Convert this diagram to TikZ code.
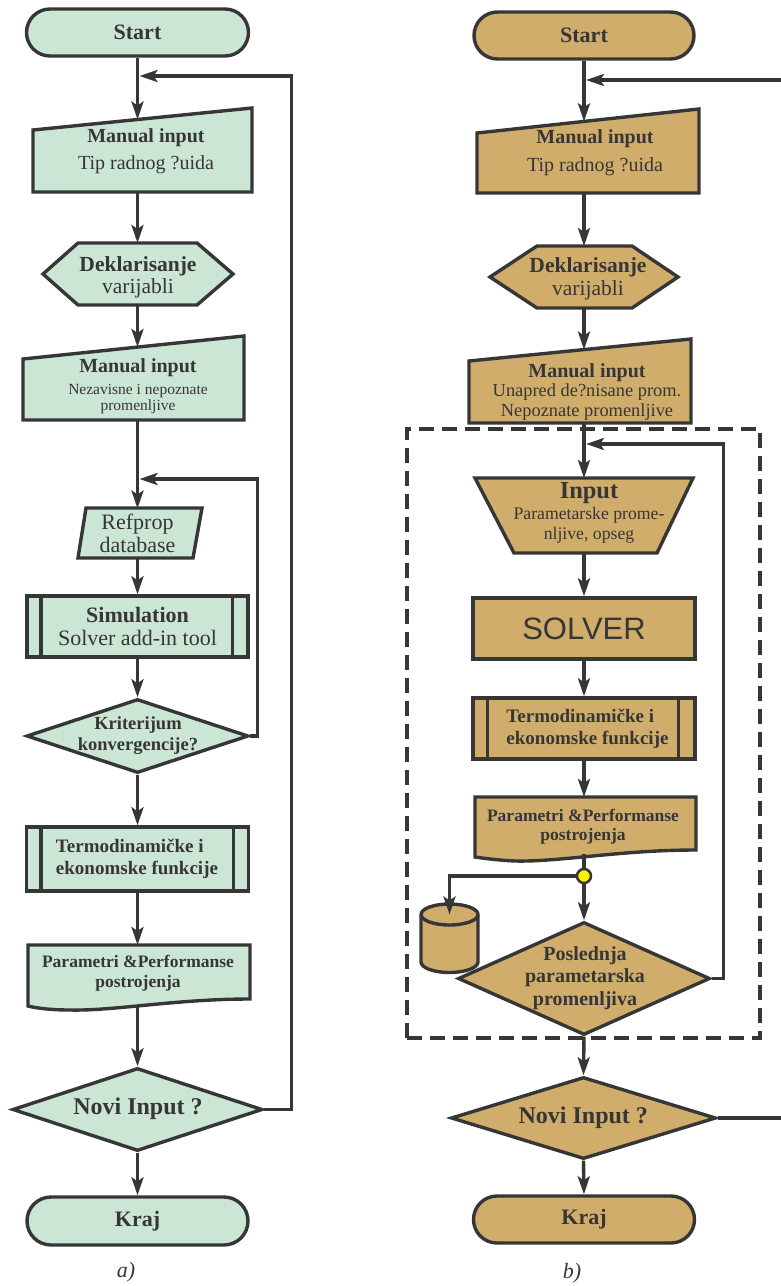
\documentclass[tikz,border=0pt]{standalone}
\usepackage{fontspec}
\setmainfont{Liberation Serif}
\newfontfamily\solverfont{Liberation Sans}
\usetikzlibrary{arrows.meta,shapes.misc,shapes.geometric,calc}
\definecolor{dk}{HTML}{363636}
\definecolor{gfill}{HTML}{CCE6D5}
\definecolor{tfill}{HTML}{D1AD6B}
\definecolor{ydot}{HTML}{FFF200}
\newcommand\myfs[2]{\fontsize{#1}{#2}\selectfont}
\begin{document}
\begin{tikzpicture}[x=1pt,y=-1pt,
  shp/.style={draw=dk, line width=3.4pt, line join=miter},
  gshp/.style={shp, fill=gfill},
  tshp/.style={shp, fill=tfill},
  conn/.style={rectangle, inner sep=0pt, outer sep=0pt, draw=none},
  arr/.style={draw=dk, line width=3.4pt, -{Stealth[length=18pt,width=12pt,inset=4pt]}},
  ln/.style={draw=dk, line width=3.4pt},
  txt/.style={inner sep=0pt, align=center, text=dk},
  term/.style={rounded rectangle, inner sep=0pt, text=dk},
  boxn/.style={rectangle, inner sep=0pt, text=dk, align=center},
  dia/.style={diamond, inner sep=0pt}
]
\useasboundingbox (0,0) rectangle (781,1286);
\clip (0,0) rectangle (781,1286);

% ================= LEFT (a) =================
\node[term, gshp, minimum width=222pt, minimum height=47pt, font=\myfs{22}{24}\bfseries] (s1) at (137.5,32.5) {Start};

\path[gshp] (33,192) -- (33,130) -- (252,108) -- (252,192) -- cycle;
\node[conn, minimum width=219pt, minimum height=72.5pt] (mi1) at (137.5,155.75) {};
\node[txt, font=\myfs{20}{27}] (mi1t) at (146,151) {\textbf{Manual input}\\Tip radnog ?uida};

\path[gshp] (43,274) -- (78,243) -- (197,243) -- (233,274) -- (197,305) -- (78,305) -- cycle;
\node[conn, minimum width=190pt, minimum height=62pt] (hx1) at (137.5,274) {};
\node[txt, font=\myfs{21.5}{21.5}] (hx1t) at (138,277.3) {\textbf{Deklarisanje}\\varijabli};

\path[gshp] (23,420) -- (23,359) -- (244,336) -- (244,420) -- cycle;
\node[conn, minimum width=221pt, minimum height=73pt] (mi2) at (137.5,383.5) {};
\node[txt, font=\myfs{15.5}{16}] (mi2t) at (138,386) {{\myfs{20}{16}\bfseries Manual input}\\[6pt]Nezavisne i nepoznate\\promenljive};

\path[gshp] (86,508) -- (202,508) -- (193,558) -- (78,558) -- cycle;
\node[conn, txt, minimum width=110pt, minimum height=50pt, font=\myfs{22}{23}] (rp) at (137.5,533.5) {Refprop\\database};

\node[boxn, gshp, minimum width=221pt, minimum height=61pt, font=\myfs{22}{23}] (sim) at (137.5,626.5) {\textbf{Simulation}\\Solver add-in tool};
\draw[shp] ($(sim.north west)+(15.5,0)$) -- ($(sim.south west)+(15.5,0)$);
\draw[shp] ($(sim.north east)+(-17,0)$) -- ($(sim.south east)+(-17,0)$);

\node[dia, gshp, minimum width=222pt, minimum height=74pt] (kr1) at (137.5,736) {};
\node[txt, font=\myfs{18.5}{21}\bfseries] (kr1t) at (138,735.2) {Kriterijum\\konvergencije?};

\node[boxn, gshp, minimum width=222pt, minimum height=64pt] (ter1) at (137.5,859) {};
\draw[shp] ($(ter1.north west)+(16,0)$) -- ($(ter1.south west)+(16,0)$);
\draw[shp] ($(ter1.north east)+(-17,0)$) -- ($(ter1.south east)+(-17,0)$);
\node[txt, align=left, font=\myfs{19}{22}\bfseries] (ter1t) at (137,858.7) {Termodinamičke i\\ekonomske funkcije};

\path[gshp] (28,945) -- (250,945) -- (250,999) .. controls (175,999) and (115,1011) .. (70,1010) .. controls (50,1010) and (36,1008) .. (28,1006) -- cycle;
\node[conn, minimum width=222pt, minimum height=60pt] (doc1) at (137.5,975) {};
\node[txt, font=\myfs{17.5}{20}\bfseries] (doc1t) at (138,973) {Parametri \&Performanse\\postrojenja};

\node[dia, gshp, minimum width=250pt, minimum height=83pt] (nov1) at (137.5,1109.5) {};
\node[txt, font=\myfs{24}{26}\bfseries] (nov1t) at (138,1108.8) {Novi Input ?};

\node[term, gshp, minimum width=221pt, minimum height=48pt, font=\myfs{22}{24}\bfseries] (k1) at (137.5,1221) {Kraj};

\node[txt, font=\myfs{22}{24}\itshape] (la) at (126,1272) {a)};

\coordinate (fb1) at (139.5,76);
\coordinate (fb2) at (139.5,479);
\draw[arr] (s1.south) -- (mi1.north);
\draw[arr] (mi1.south) -- (hx1.north);
\draw[arr] (hx1.south) -- (mi2.north);
\draw[arr] (mi2.south) -- (rp.north);
\draw[arr] (rp.south) -- (sim.north);
\draw[arr] (sim.south) -- (kr1.north);
\draw[arr] (kr1.south) -- (ter1.north);
\draw[arr] (ter1.south) -- (doc1.north);
\draw[arr] (doc1.south) -- (nov1.north);
\draw[arr] (nov1.south) -- (k1.north);
\draw[arr] (kr1.east) -- ++(7,0) |- (fb2);
\draw[arr] (nov1.east) -- ++(27,0) |- (fb1);

% ================= RIGHT (b) =================
\node[draw=dk, line width=3.4pt, dash pattern=on 15pt off 8pt, rectangle, inner sep=0pt, minimum width=353pt, minimum height=609pt] (loop) at (583.5,733.5) {};

\node[term, tshp, minimum width=220pt, minimum height=47pt, font=\myfs{22}{24}\bfseries] (s2) at (584,35.5) {Start};

\path[tshp] (477,193) -- (477,133) -- (699,109) -- (699,193) -- cycle;
\node[conn, minimum width=222pt, minimum height=71.6pt] (mi3) at (584,157.2) {};
\node[txt, font=\myfs{20}{28}] (mi3t) at (595,152.4) {\textbf{Manual input}\\Tip radnog ?uida};

\path[tshp] (490,277) -- (537,246) -- (632,246) -- (678,277) -- (632,308) -- (537,308) -- cycle;
\node[conn, minimum width=188pt, minimum height=62pt] (hx2) at (584,277) {};
\node[txt, font=\myfs{21.5}{23}] (hx2t) at (588,278.5) {\textbf{Deklarisanje}\\varijabli};

\path[tshp] (469,423) -- (469,361) -- (691,339) -- (691,423) -- cycle;
\node[conn, minimum width=222pt, minimum height=73.4pt] (mi4) at (584,386.3) {};
\node[txt, font=\myfs{18.4}{20}] (mi4t) at (587,391.7) {{\myfs{20}{20}\bfseries Manual input}\\[-1pt]Unapred de?nisane prom.\\Nepoznate promenljive};

\path[tshp] (475,478) -- (693,478) -- (657,553) -- (514,553) -- cycle;
\node[conn, minimum width=218pt, minimum height=75pt] (inp) at (584,515.5) {};
\node[txt, font=\myfs{17.7}{20}] (inpt) at (589,513.2) {{\myfs{24.4}{20}\bfseries Input}\\[1pt]Parametarske prome-\\nljive, opseg};

\node[boxn, tshp, minimum width=222pt, minimum height=61pt, font=\solverfont\myfs{31}{33}] (sol) at (584,628.5) {SOLVER};

\node[boxn, tshp, minimum width=222pt, minimum height=61pt] (ter2) at (584,728.5) {};
\draw[shp] ($(ter2.north west)+(16,0)$) -- ($(ter2.south west)+(16,0)$);
\draw[shp] ($(ter2.north east)+(-18,0)$) -- ($(ter2.south east)+(-18,0)$);
\node[txt, align=left, font=\myfs{19}{22}\bfseries] (ter2t) at (587.5,728.7) {Termodinamičke i\\ekonomske funkcije};

\path[tshp] (475,797) -- (696,797) -- (696,850) .. controls (620,850) and (560,862) .. (515,861) .. controls (495,860) and (482,858) .. (475,857) -- cycle;
\node[conn, minimum width=221pt, minimum height=57pt] (doc2) at (584,825.5) {};
\node[txt, font=\myfs{17.5}{19}\bfseries] (doc2t) at (583,826.5) {Parametri \&Performanse\\postrojenja};

% cylinder (data store)
\path[tshp] (421,914.5) -- (421,962) arc[start angle=180, end angle=0, x radius=28.5, y radius=10.5] -- (478,914.5) arc[start angle=0, end angle=-180, x radius=28.5, y radius=10.5] -- cycle;
\draw[shp] (421,914.5) arc[start angle=180, end angle=0, x radius=28.5, y radius=10.5];
\node[conn, minimum width=57pt, minimum height=47.5pt] (cyl) at (449.5,938.25) {};

\node[dia, tshp, minimum width=252pt, minimum height=113pt] (pos) at (584,978.5) {};
\node[txt, font=\myfs{20}{22.5}\bfseries] (post) at (585,977.9) {Poslednja\\parametarska\\promenljiva};

\node[dia, tshp, minimum width=265pt, minimum height=82pt] (nov2) at (583.5,1118) {};
\node[txt, font=\myfs{24}{26}\bfseries] (nov2t) at (583.3,1117.4) {Novi Input ?};

\node[term, tshp, minimum width=221pt, minimum height=47pt, font=\myfs{22}{24}\bfseries] (k2) at (584,1219.5) {Kraj};

\node[txt, font=\myfs{22}{24}\itshape] (lb) at (572,1273) {b)};

\node[circle, fill=ydot, draw=dk, line width=2.5pt, minimum size=14pt, inner sep=0pt] (dot) at (584,876) {};

\coordinate (fb3) at (586,80);
\coordinate (fb4) at (586,444);
\draw[arr] (s2.south) -- (mi3.north);
\draw[arr] (mi3.south) -- (hx2.north);
\draw[arr] (hx2.south) -- (mi4.north);
\draw[arr] (mi4.south) -- (inp.north);
\draw[arr] (inp.south) -- (sol.north);
\draw[arr] (sol.south) -- (ter2.north);
\draw[arr] (ter2.south) -- (doc2.north);
\draw[ln] (doc2.south) -- (dot);
\draw[arr] (dot) -- (pos.north);
\draw[arr] (dot) -| (cyl.north);
\draw[arr] (pos.south) -- (nov2.north);
\draw[arr] (nov2.south) -- (k2.north);
\draw[arr] (pos.east) -- ++(12,0) |- (fb4);
\draw[arr] (nov2.east) -- ++(90,0) |- (fb3);
\end{tikzpicture}
\end{document}
